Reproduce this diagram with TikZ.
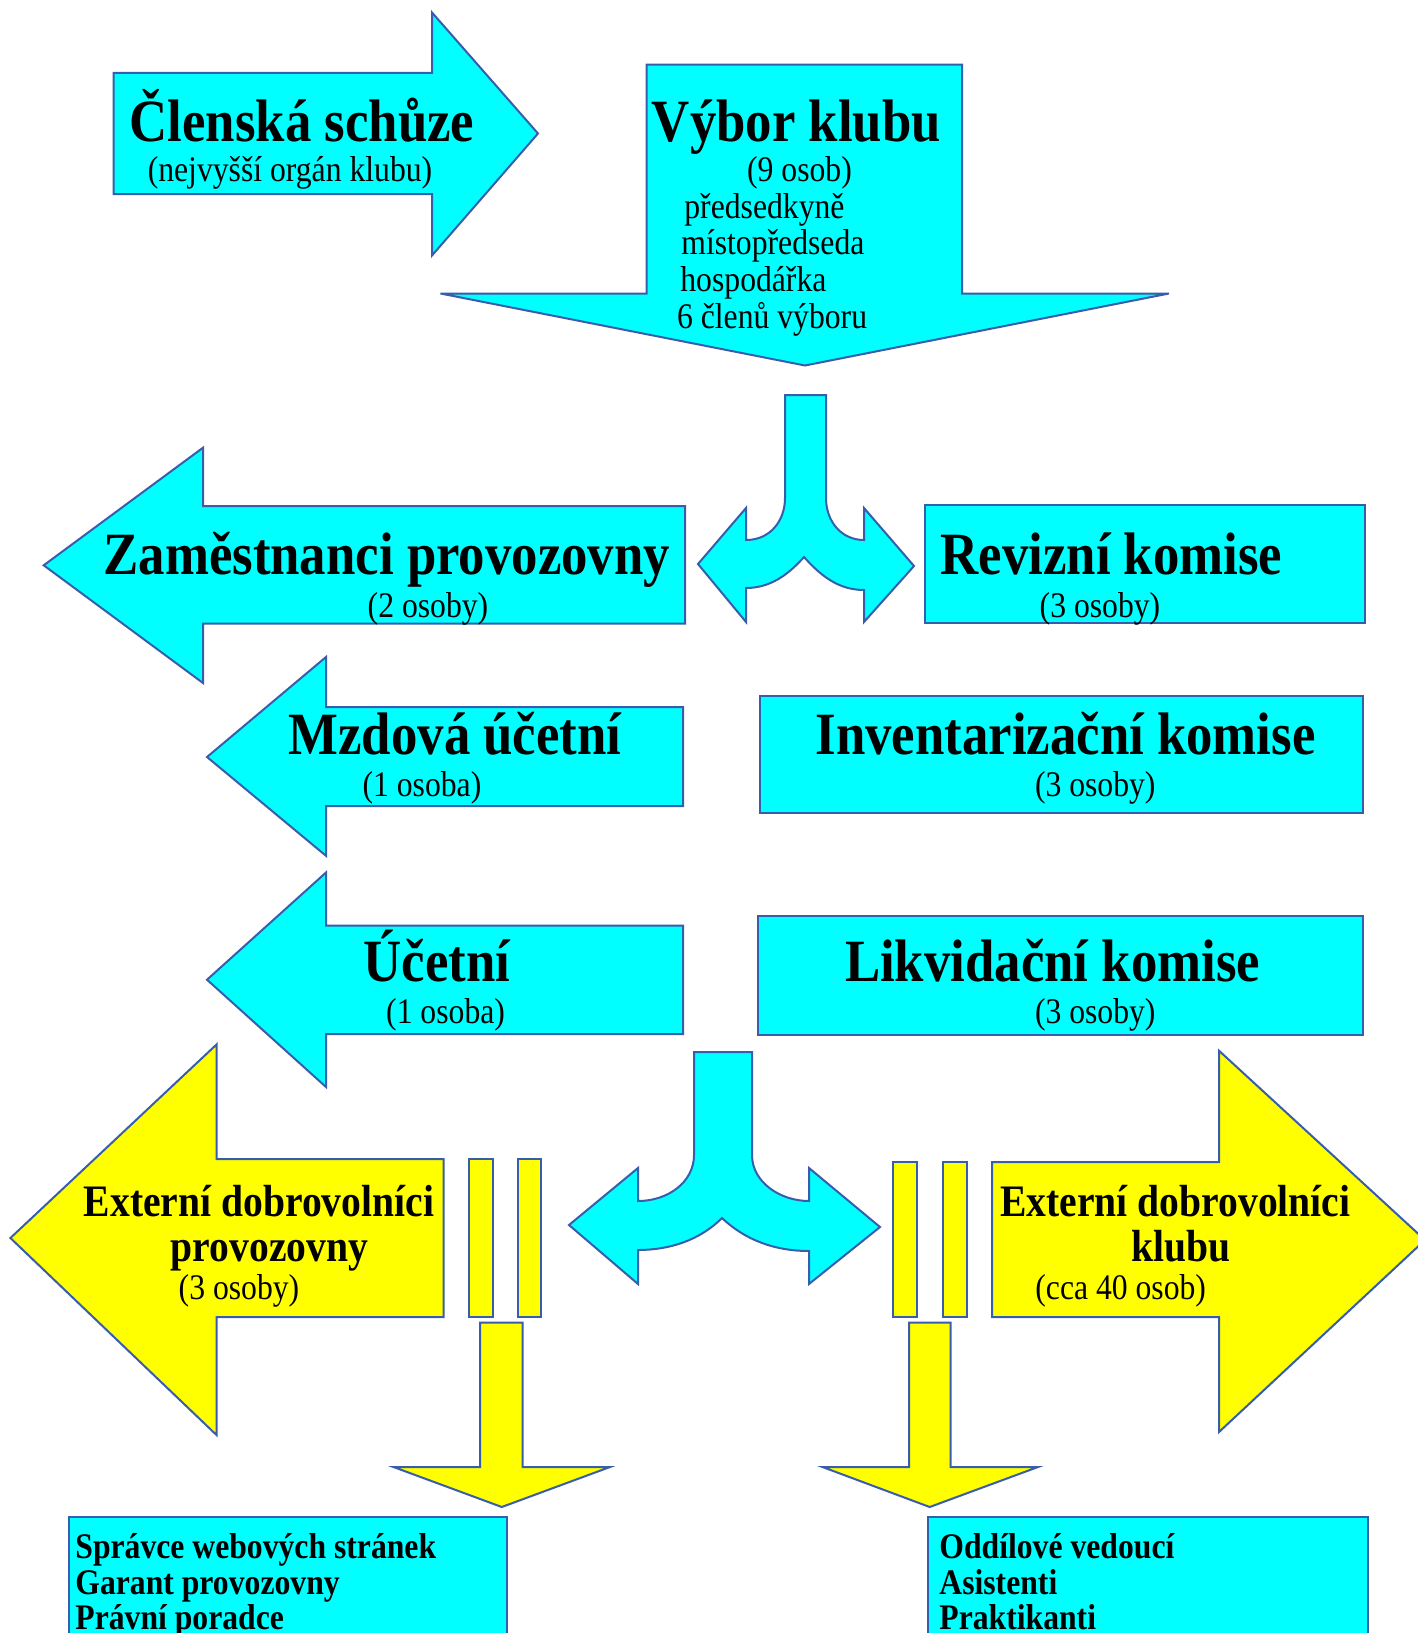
\documentclass[tikz,border=0pt]{standalone}
\usepackage{fontspec}
\setmainfont[FakeStretch=0.88]{Liberation Serif}
\definecolor{lineblue}{RGB}{56,93,170}
\definecolor{cyanf}{RGB}{0,255,255}
\definecolor{yellowf}{RGB}{255,255,0}
\tikzset{
  shp/.style={draw=lineblue, line width=1pt, line join=miter},
  cy/.style={shp, fill=cyanf},
  ye/.style={shp, fill=yellowf},
  txt/.style={inner sep=0pt, yshift=-1.5pt},
  ttl/.style={txt, anchor=base, font=\fontsize{30}{36}\selectfont\bfseries},
  subt/.style={txt, anchor=base, font=\fontsize{18}{22}\selectfont},
  lstr/.style={txt, anchor=base west, font=\fontsize{18}{22}\selectfont},
  ext/.style={txt, anchor=base, font=\fontsize{22.5}{27}\selectfont\bfseries},
  lstb/.style={txt, anchor=base west, font=\fontsize{18}{22}\selectfont\bfseries},
}
\begin{document}
\begin{tikzpicture}[x=0.5pt,y=-0.5pt]
\useasboundingbox (0,0) rectangle (1418,1633);
\clip (0,0) rectangle (1418,1633);

% Clenska schuze
\path[cy] (113.5,72.8) -- (432,72.8) -- (432,12.5) -- (538,133.5) -- (432,255.5) -- (432,194) -- (113.5,194) -- cycle;
\node[ttl] (clen) at (302,138.5) {Členská schůze};
\node[subt] (clens) at (290,178) {(nejvyšší orgán klubu)};

% Vybor klubu
\path[cy] (646.5,64.5) -- (962,64.5) -- (962,293.5) -- (1169,293.5) -- (805,365.5) -- (440.5,293.5) -- (646.5,293.5) -- cycle;
\node[ttl] (vybor) at (796.5,138.5) {Výbor klubu};
\node[subt] (vybors) at (799.5,178) {(9 osob)};
\node[lstr] (v1) at (684,215) {předsedkyně};
\node[lstr] (v2) at (681,251.7) {místopředseda};
\node[lstr] (v3) at (680,288) {hospodářka};
\node[lstr] (v4) at (676.7,325) {6 členů výboru};

% split arrow 1
\path[cy] (785,395) -- (826,395) -- (826,498)
  .. controls (826,521) and (841,540) .. (864,540)
  -- (864,508) -- (914,566) -- (864,622) -- (864,590)
  .. controls (838,590) and (820,575) .. (804,557)
  .. controls (788,575) and (770,588) .. (746,588)
  -- (746,622) -- (698,564) -- (746,508) -- (746,540)
  .. controls (770,540) and (785,521) .. (785,498) -- cycle;

% Zamestnanci
\path[cy] (685,506) -- (203,506) -- (203,447.7) -- (43.7,565.3) -- (203,683) -- (203,623.6) -- (685,623.6) -- cycle;
\node[ttl] (zam) at (386.8,571.6) {Zaměstnanci provozovny};
\node[subt] (zams) at (428,614) {(2 osoby)};

% Revizni
\path[cy] (924.5,505) rectangle (1365,622.6);
\node[ttl] (rev) at (1111.4,571.6) {Revizní komise};
\node[subt] (revs) at (1100,614) {(3 osoby)};

% Mzdova
\path[cy] (683,707) -- (326,707) -- (326,657) -- (207,757) -- (326,855.8) -- (326,806) -- (683,806) -- cycle;
\node[ttl] (mzd) at (455,751.7) {Mzdová účetní};
\node[subt] (mzds) at (422,793) {(1 osoba)};

% Inventarizacni
\path[cy] (760,695.5) rectangle (1362.8,813);
\node[ttl] (inv) at (1065.6,751.7) {Inventarizační komise};
\node[subt] (invs) at (1095.3,793) {(3 osoby)};

% Ucetni
\path[cy] (683,925.5) -- (326,925.5) -- (326,872.5) -- (207,979.7) -- (326,1087) -- (326,1034) -- (683,1034) -- cycle;
\node[ttl] (uce) at (437,978.6) {Účetní};
\node[subt] (uces) at (445.6,1020) {(1 osoba)};

% Likvidacni
\path[cy] (758,916) rectangle (1362.8,1035);
\node[ttl] (lik) at (1052.6,978.6) {Likvidační komise};
\node[subt] (liks) at (1095.3,1020) {(3 osoby)};

% split arrow 2
\path[cy] (694,1052) -- (752,1052) -- (752,1155)
  .. controls (752,1182) and (780,1201) .. (809,1201)
  -- (809,1168) -- (880,1227) -- (809,1284) -- (809,1251)
  .. controls (775,1251) and (745,1240) .. (722,1218)
  .. controls (700,1240) and (670,1250) .. (638,1250)
  -- (638,1284) -- (569,1225) -- (638,1168) -- (638,1201)
  .. controls (668,1201) and (694,1182) .. (694,1155) -- cycle;

% Externi dobrovolnici provozovny
\path[ye] (443.5,1159) -- (216.5,1159) -- (216.5,1044.5) -- (10.4,1238) -- (216.5,1435) -- (216.5,1317) -- (443.5,1317) -- cycle;
\node[ext] (exp1) at (259,1213) {Externí dobrovolníci};
\node[ext] (exp2) at (269.6,1258) {provozovny};
\node[subt] (exps) at (239,1296.6) {(3 osoby)};
\path[ye] (468.5,1159) rectangle (492.5,1317);
\path[ye] (517.5,1159) rectangle (541.4,1317);
\path[ye] (480,1322.5) -- (522.6,1322.5) -- (522.6,1467) -- (610,1467) -- (501.8,1507) -- (393.5,1467) -- (480,1467) -- cycle;
\path[cy] (68.7,1517) rectangle (507,1645);
\node[lstb] (b1) at (75,1555) {Správce webových stránek};
\node[lstb] (b2) at (75,1591.7) {Garant provozovny};
\node[lstb] (b3) at (75,1626.7) {Právní poradce};

% Externi dobrovolnici klubu
\path[ye] (893,1162) rectangle (917,1317);
\path[ye] (943,1162) rectangle (967,1317);
\path[ye] (992,1162) -- (1219,1162) -- (1219,1050.7) -- (1425,1240) -- (1219,1432) -- (1219,1317) -- (992,1317) -- cycle;
\node[ext] (exk1) at (1175.4,1213) {Externí dobrovolníci};
\node[ext] (exk2) at (1180.6,1258) {klubu};
\node[subt] (exks) at (1120.7,1296.6) {(cca 40 osob)};
\path[ye] (909,1322.5) -- (950.5,1322.5) -- (950.5,1467) -- (1038,1467) -- (929.7,1507) -- (822.5,1467) -- (909,1467) -- cycle;
\path[cy] (927.6,1517) rectangle (1368,1645);
\node[lstb] (c1) at (939,1555) {Oddílové vedoucí};
\node[lstb] (c2) at (939,1591.7) {Asistenti};
\node[lstb] (c3) at (939,1626.7) {Praktikanti};
\end{tikzpicture}
\end{document}
